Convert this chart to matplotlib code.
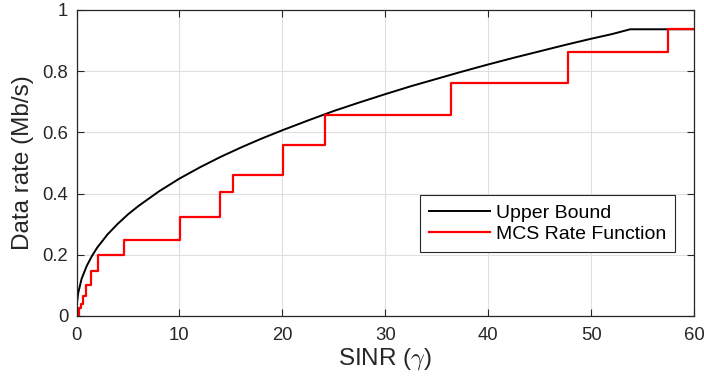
import matplotlib
matplotlib.use('Agg')
import matplotlib.pyplot as plt

# upper bound curve
ub_sinr = [0, 0.05, 0.17, 0.5, 1, 1.5, 2, 3, 4, 5, 6, 8, 10, 12, 14, 16, 18,
           20, 22.5, 25, 27.5, 30, 32.5, 35, 37.5, 40, 42.5, 45, 47.5, 50,
           52, 53.8, 60]
ub_rate = [0, 0.045, 0.076, 0.122, 0.164, 0.196, 0.223, 0.266, 0.301, 0.332,
           0.359, 0.407, 0.449, 0.486, 0.520, 0.551, 0.580, 0.607, 0.639,
           0.670, 0.698, 0.725, 0.751, 0.775, 0.799, 0.822, 0.844, 0.865,
           0.886, 0.906, 0.921, 0.937, 0.937]

# MCS rate function: switching thresholds and rate levels
mcs_sinr = [0, 0.2, 0.4, 0.6, 0.9, 1.4, 2.1, 4.6, 10.1, 13.9, 15.2, 20.1,
            24.1, 36.4, 47.8, 57.5, 60]
mcs_rate = [0, 0.026, 0.040, 0.064, 0.102, 0.148, 0.198, 0.249, 0.323, 0.406,
            0.461, 0.560, 0.658, 0.763, 0.863, 0.937, 0.937]

plt.rcParams['font.family'] = ['Liberation Sans', 'DejaVu Sans']
plt.rcParams['mathtext.fontset'] = 'cm'

fig = plt.figure(figsize=(7.04, 3.81), dpi=100)
ax = fig.add_axes([76.5 / 704, 1 - 316 / 381, 617.5 / 704, 306 / 381])

ax.plot(ub_sinr, ub_rate, color='black', lw=1.4, label='Upper Bound')
ax.step(mcs_sinr, mcs_rate, where='post', color='red', lw=1.6,
        label='MCS Rate Function')

ax.set_xlim(0, 60)
ax.set_ylim(0, 1)
ax.set_xticks(range(0, 61, 10))
ax.set_yticks([0, 0.2, 0.4, 0.6, 0.8, 1])
ax.set_yticklabels(['0', '0.2', '0.4', '0.6', '0.8', '1'])
ax.grid(True, color='#dfdfdf', lw=0.8)
ax.set_axisbelow(True)

ax.tick_params(direction='in', top=True, right=True, length=5, width=0.8,
               colors='#262626', labelsize=13.3)
ax.tick_params(axis='x', pad=8)
ax.tick_params(axis='y', pad=6)
for s in ax.spines.values():
    s.set_color('#262626')
    s.set_linewidth(0.9)

ax.set_xlabel(r'SINR ($\gamma$)', fontsize=17.5, color='#262626', labelpad=1)
ax.set_ylabel('Data rate (Mb/s)', fontsize=17.5, color='#262626', labelpad=6)

leg = ax.legend(loc='lower right', bbox_to_anchor=(0.969, 0.209),
                borderaxespad=0, fontsize=14, fancybox=False,
                edgecolor='#262626', framealpha=1, handlelength=3.15,
                handletextpad=0.3, labelspacing=0.2, borderpad=0.45)
leg.get_frame().set_linewidth(0.8)

fig.savefig('out.png', dpi=100)
